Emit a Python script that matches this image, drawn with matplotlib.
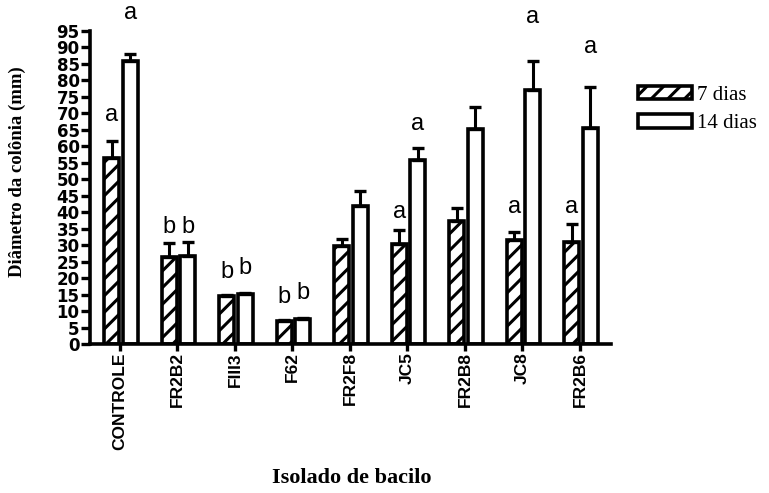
import matplotlib
matplotlib.use('Agg')
import matplotlib.pyplot as plt
import numpy as np


isolados = ['CONTROLE', 'FR2B2', 'FIII3', 'F62', 'FR2F8', 'JC5', 'FR2B8', 'JC8', 'FR2B6']

dias7 = [56.5, 26.5, 14.5, 6.9, 29.6, 30.4, 37.2, 31.5, 30.9]
dias7_err = [5.0, 4.2, 0.3, 0.3, 2.3, 4.1, 4.0, 2.5, 5.6]
dias14 = [85.8, 26.6, 15.1, 7.6, 42.0, 55.9, 65.3, 77.0, 65.7]
dias14_err = [2.3, 4.5, 0.3, 0.3, 4.4, 3.6, 6.5, 8.8, 12.2]

letras7 = ['a', 'b', 'b', 'b', '', 'a', '', 'a', 'a']
letras14 = ['a', 'b', 'b', 'b', '', 'a', '', 'a', 'a']

# distance (pixels) from the error cap to the middle of each letter
pad7 = [26, 16, 23, 23, 0, 18, 0, 25, 17]
pad14 = [41, 15, 25, 25, 0, 24, 0, 44, 40]

plt.rcParams['hatch.linewidth'] = 2.2
plt.rcParams['hatch.color'] = 'black'

fig = plt.figure(figsize=(7.69, 4.93), dpi=100)
ax = fig.add_axes([90 / 769, 149 / 493, 521 / 769, 313 / 493])

x = np.arange(len(isolados))
w = 0.26
x7 = x - 0.14
x14 = x + 0.18
lw = 2.6

b7 = ax.bar(x7, dias7, w, color='white', edgecolor='black', linewidth=lw, hatch='//', zorder=2)
b14 = ax.bar(x14, dias14, w, color='white', edgecolor='black', linewidth=lw, zorder=2)

err_kw = dict(fmt='none', ecolor='black', elinewidth=2.2, capsize=4, capthick=2.4, zorder=3)
ax.errorbar(x7, dias7, yerr=[np.zeros(len(x)), dias7_err], **err_kw)
ax.errorbar(x14, dias14, yerr=[np.zeros(len(x)), dias14_err], **err_kw)

for xs, ys, es, ls, ps in [(x7, dias7, dias7_err, letras7, pad7),
                           (x14, dias14, dias14_err, letras14, pad14)]:
    for xi, yi, ei, li, pi in zip(xs, ys, es, ls, ps):
        if li:
            ax.annotate(li, (xi, yi + ei), xytext=(0, pi * 0.72), textcoords='offset points',
                        ha='center', va='center', fontsize=17, family='Liberation Sans',
                        annotation_clip=False)

ax.set_xlim(-0.52, 8.54)
ax.set_ylim(0, 95)
ax.set_yticks(np.arange(0, 96, 5))
ax.set_xticks(x)
ax.set_xticklabels(isolados, rotation=90, fontsize=12.5, fontweight='bold', family='Liberation Sans')
for t in ax.get_yticklabels():
    t.set_fontsize(12)
    t.set_fontweight('bold')
    t.set_family('DejaVu Sans')

for s in ['top', 'right']:
    ax.spines[s].set_visible(False)
for s in ['left', 'bottom']:
    ax.spines[s].set_linewidth(2.6)
ax.tick_params(axis='y', length=6.5, width=2.4, pad=1)
ax.tick_params(axis='x', length=5, width=2.4, pad=1)

fig.text(17 / 769, 1 - 172 / 493, 'Diâmetro da colônia (mm)', rotation=90, ha='center', va='center',
         fontsize=13.5, fontweight='bold', family='Liberation Serif')
fig.text(352 / 769, 1 - 478 / 493, 'Isolado de bacilo', ha='center', va='center',
         fontsize=16, fontweight='bold', family='Liberation Serif')

fig.legend([b7, b14], ['7 dias', '14 dias'], loc='upper left', bbox_to_anchor=(638 / 769, 1 - 86 / 493),
           frameon=False, prop={'family': 'Liberation Serif', 'size': 15}, handlelength=2.6,
           handleheight=0.6, handletextpad=0.25, labelspacing=0.45, borderpad=0, borderaxespad=0)

fig.savefig('out.png', dpi=100)
